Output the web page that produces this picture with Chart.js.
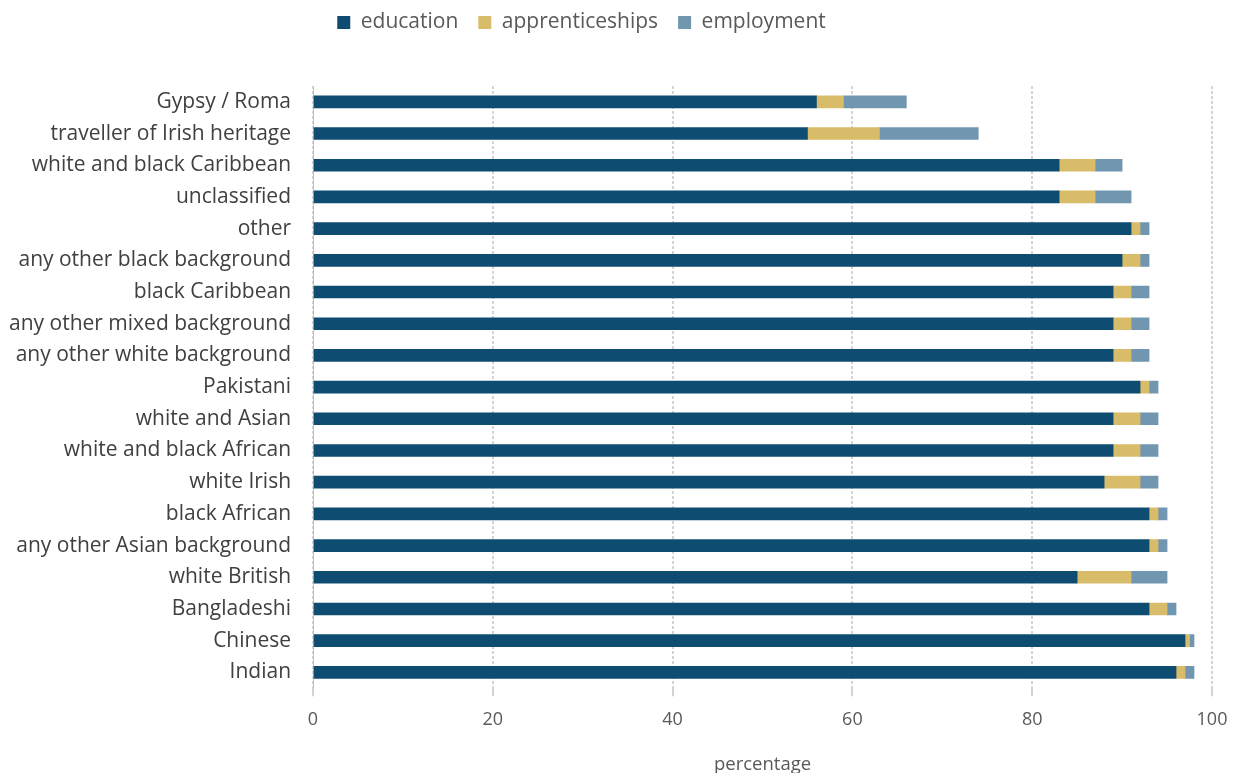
<!DOCTYPE html>
<html>
<head>
<meta charset="utf-8">
<script src="https://cdn.jsdelivr.net/npm/chart.js@4/dist/chart.umd.min.js"></script>
<style>
    html, body { margin: 0; padding: 0; background: #fff; }
    #wrap { width: 1234px; height: 773px; }
</style>
</head>
<body>
<div id="wrap"><canvas id="destinations"></canvas></div>
<script>
// ethnic groups, top to bottom
const groups = [
    'Gypsy / Roma', 'traveller of Irish heritage', 'white and black Caribbean', 'unclassified',
    'other', 'any other black background', 'black Caribbean', 'any other mixed background',
    'any other white background', 'Pakistani', 'white and Asian', 'white and black African',
    'white Irish', 'black African', 'any other Asian background', 'white British',
    'Bangladeshi', 'Chinese', 'Indian'
]

// share of pupils in each destination (percentage)
const education = [56, 55, 83, 83, 91, 90, 89, 89, 89, 92, 89, 89, 88, 93, 93, 85, 93, 97, 96]
const apprenticeships = [3, 8, 4, 4, 1, 2, 2, 2, 2, 1, 3, 3, 4, 1, 1, 6, 2, 0.5, 1]
const employment = [7, 11, 3, 4, 1, 1, 2, 2, 2, 1, 2, 2, 2, 1, 1, 4, 1, 0.5, 1]

const xTicks = [0, 20, 40, 60, 80, 100]

const fontFamily = '"Open Sans", "Noto Sans", sans-serif'

function serie(label, data, color) {
    return {
        label,
        data,
        backgroundColor: color,
        borderWidth: 0,
        barThickness: 12
    }
}

// leaves some room between the legend and the plot, and moves the legend a bit to the left
const legendGap = {
    id: 'legendGap',
    beforeInit(chart) {
        const fit = chart.legend.fit
        chart.legend.fit = function () {
            fit.bind(chart.legend)()
            this.height += 43
        }
    },
    afterLayout(chart) {
        chart.legend.left -= 22
        chart.legend.right -= 22
    }
}

const ctx = document.getElementById('destinations')
new Chart(ctx, {
    type: 'bar',
    data: {
        labels: groups,
        datasets: [
            serie('education', education, '#0f4c71'),
            serie('apprenticeships', apprenticeships, '#d9bc6a'),
            serie('employment', employment, '#7096b0')
        ]
    },
    plugins: [legendGap],
    options: {
        indexAxis: 'y',
        responsive: true,
        maintainAspectRatio: false,
        animation: false,
        layout: { padding: { left: -5, right: 22, top: -8, bottom: 0 } },
        plugins: {
            legend: {
                position: 'top',
                labels: {
                    boxWidth: 13,
                    boxHeight: 13,
                    padding: 20,
                    color: '#595959',
                    font: { family: fontFamily, size: 21 }
                }
            },
            tooltip: { enabled: false }
        },
        scales: {
            x: {
                stacked: true,
                min: 0,
                max: 100,
                afterBuildTicks: (axis) => {
                    axis.ticks = xTicks.map((v) => ({ value: v }))
                },
                afterFit: (axis) => {
                    axis.paddingRight = 0
                },
                grid: {
                    color: '#d4d4d4',
                    lineWidth: 2,
                    tickLength: 8,
                    tickColor: '#d4d4d4'
                },
                border: { display: false, dash: [3, 2] },
                ticks: {
                    color: '#595959',
                    padding: 13,
                    font: { family: fontFamily, size: 18 }
                },
                title: {
                    display: true,
                    text: 'percentage',
                    color: '#595959',
                    padding: { top: 10, bottom: -3 },
                    font: { family: fontFamily, size: 18.5 }
                }
            },
            y: {
                stacked: true,
                grid: { display: false },
                border: { display: true, color: '#bfbfbf', width: 1 },
                ticks: {
                    color: '#404040',
                    padding: 14,
                    font: { family: fontFamily, size: 21 }
                }
            }
        }
    }
})
</script>
</body>
</html>
